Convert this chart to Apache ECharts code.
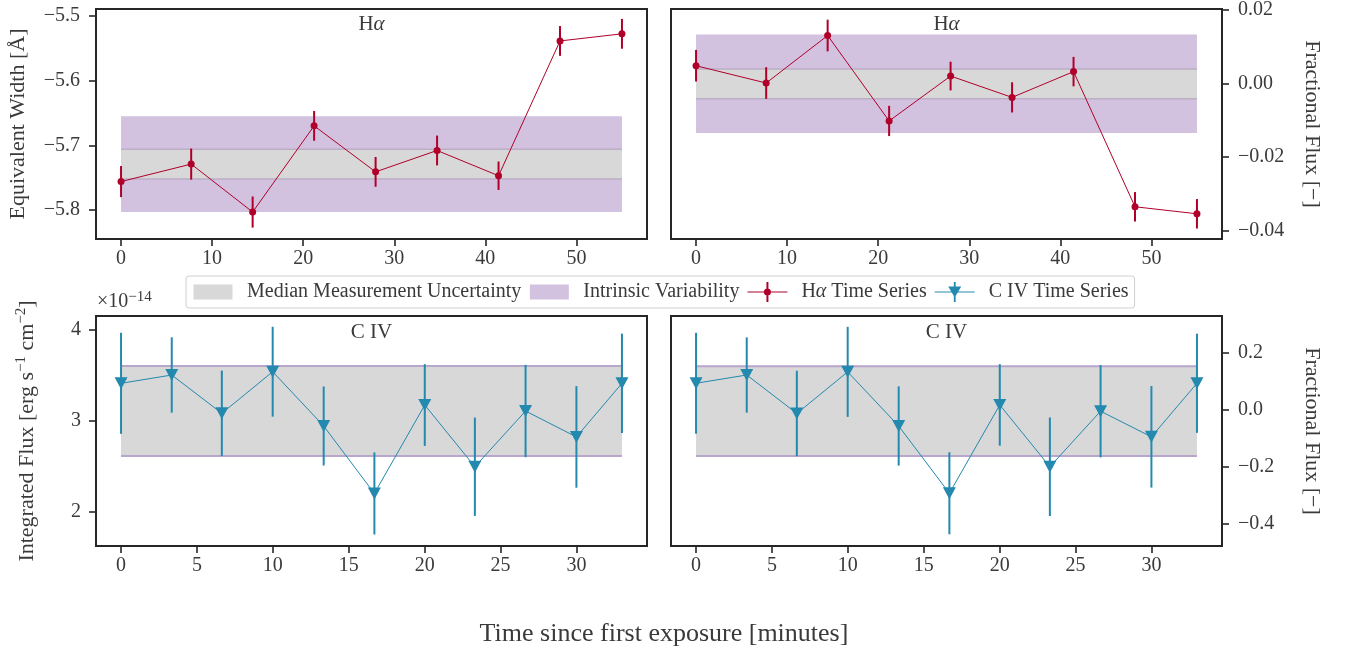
<!DOCTYPE html>
<html>
<head>
<meta charset="utf-8">
<script src="https://cdn.jsdelivr.net/npm/echarts@6/dist/echarts.min.js"></script>
<style>
html,body{margin:0;padding:0;background:#fff;}
#chart{width:1348px;height:656px;}
</style>
</head>
<body>
<div id="chart"></div>
<script>
// ---------------- data ----------------
const haTime = [0, 7.7, 14.45, 21.2, 27.95, 34.7, 41.45, 48.2, 55.0];
const haEW = [-5.756, -5.729, -5.803, -5.670, -5.741, -5.708, -5.747, -5.539, -5.528];
const haEWErr = [0.024, 0.024, 0.024, 0.023, 0.023, 0.023, 0.022, 0.023, 0.023];
const haFrac = [0.0048, 0.0001, 0.0130, -0.0102, 0.0020, -0.0038, 0.0032, -0.0335, -0.0354];
const haFracErr = [0.0043, 0.0043, 0.0043, 0.0041, 0.0039, 0.0041, 0.0040, 0.0040, 0.0040];
const haEWMeasBand = [-5.752, -5.706];
const haEWIntrBand = [-5.803, -5.655];
const haFracMeasBand = [-0.0042, 0.0039];
const haFracIntrBand = [-0.0135, 0.0133];

const civTime = [0, 3.34, 6.64, 9.99, 13.35, 16.69, 20.01, 23.31, 26.65, 30.0, 33.0];
const civFlux = [3.408, 3.499, 3.079, 3.535, 2.94, 2.20, 3.17, 2.493, 3.104, 2.82, 3.408];
const civFluxErr = [0.554, 0.413, 0.468, 0.493, 0.433, 0.45, 0.448, 0.539, 0.506, 0.557, 0.545];
const civFrac = [0.094, 0.123, -0.012, 0.134, -0.056, -0.292, 0.018, -0.199, -0.004, -0.094, 0.094];
const civFracErr = [0.177, 0.132, 0.150, 0.158, 0.139, 0.144, 0.143, 0.173, 0.162, 0.178, 0.174];
const civFluxMeasBand = [2.611, 3.598];
const civFracMeasBand = [-0.161, 0.154];

const xTicksHa = [0, 10, 20, 30, 40, 50];
const xTicksCiv = [0, 5, 10, 15, 20, 25, 30];
const yTicksEW = [-5.8, -5.7, -5.6, -5.5];
const yTicksHaFrac = [-0.04, -0.02, 0, 0.02];
const yTicksFlux = [2, 3, 4];
const yTicksCivFrac = [-0.4, -0.2, 0, 0.2];

const xRangeHa = [-2.75, 57.75];
const xRangeCiv = [-1.65, 34.65];
const yRangeEW = [-5.8446, -5.4897];
const yRangeHaFrac = [-0.04225, 0.0202];
const yRangeFlux = [1.624, 4.146];
const yRangeCivFrac = [-0.477, 0.330];

const NAME_MEAS = 'Median Measurement Uncertainty';
const NAME_INTR = 'Intrinsic Variability';
const NAME_HA = 'H\u03b1 Time Series';
const NAME_CIV = 'C IV Time Series';

// ---------------- styles ----------------
const FONT = 'Liberation Serif';
const TXT = '#3a3a3a';
const FRAME = '#262626';
const RED = '#b0002a';
const BLUE = '#2389ae';
const GRAY = '#d8d8d8';
const PURPLE = '#d2c2df';
const EDGE_TOP = '#bbaec6';
const EDGE_BOT = '#b9a6cc';

const minus = s => s.replace('-', '\u2212');

function grid(left, top) {
  return {left: left, top: top, width: 551, height: 230, show: true,
    borderColor: FRAME, borderWidth: 2, backgroundColor: 'transparent',
    containLabel: false, outerBoundsMode: 'none'};
}
function xAxisDef(g, range, ticks) {
  return {type: 'value', gridIndex: g, min: range[0], max: range[1],
    axisLine: {show: true, onZero: false, lineStyle: {color: FRAME, width: 2}},
    splitLine: {show: false},
    axisTick: {show: true, inside: false, length: 7, lineStyle: {color: FRAME, width: 1.6}, customValues: ticks},
    axisLabel: {show: true, margin: 10, customValues: ticks, fontFamily: FONT, fontSize: 20, color: TXT,
      formatter: v => minus(String(v))}};
}
function yAxisDef(g, pos, range, ticks, digits, name, gap, rot, margin, rich) {
  return {type: 'value', gridIndex: g, position: pos, min: range[0], max: range[1],
    axisLine: {show: true, onZero: false, lineStyle: {color: FRAME, width: 2}},
    splitLine: {show: false},
    axisTick: {show: true, inside: false, length: 7, lineStyle: {color: FRAME, width: 1.6}, customValues: ticks},
    axisLabel: {show: true, margin: margin, customValues: ticks, fontFamily: FONT, fontSize: 20, color: TXT,
      formatter: v => minus(Number(v).toFixed(digits))},
    name: name, nameLocation: 'middle', nameGap: gap, nameRotate: rot,
    nameTextStyle: {fontFamily: FONT, fontSize: 22, color: TXT, rich: rich || {}}};
}

function bandSeries(name, g, x0, x1, band, fill, edge, edgeW, z) {
  return {type: 'custom', name: name, xAxisIndex: g, yAxisIndex: g, z: z, silent: true,
    encode: {x: [0, 1], y: [2, 3]},
    data: [[x0, x1, band[0], band[1]]],
    renderItem: function (params, api) {
      const p0 = api.coord([api.value(0), api.value(3)]);
      const p1 = api.coord([api.value(1), api.value(2)]);
      const children = [{type: 'rect', shape: {x: p0[0], y: p0[1], width: p1[0] - p0[0], height: p1[1] - p0[1]},
        style: {fill: fill}}];
      if (edge) {
        children.push({type: 'line', shape: {x1: p0[0], y1: p0[1], x2: p1[0], y2: p0[1]}, style: {stroke: edge, lineWidth: edgeW}});
        children.push({type: 'line', shape: {x1: p0[0], y1: p1[1], x2: p1[0], y2: p1[1]}, style: {stroke: edge, lineWidth: edgeW}});
      }
      return {type: 'group', children: children};
    }};
}
function errSeries(name, g, xs, ys, es, color, z) {
  return {type: 'custom', name: name, xAxisIndex: g, yAxisIndex: g, z: z, silent: true,
    encode: {x: 0, y: 1},
    itemStyle: {color: color},
    data: xs.map((x, i) => [x, ys[i], es[i]]),
    renderItem: function (params, api) {
      const a = api.coord([api.value(0), api.value(1) + api.value(2)]);
      const b = api.coord([api.value(0), api.value(1) - api.value(2)]);
      return {type: 'line', shape: {x1: a[0], y1: a[1], x2: b[0], y2: b[1]}, style: {stroke: color, lineWidth: 2}};
    }};
}
function lineSeries(name, g, xs, ys, color, symbol, size, rot, z) {
  return {type: 'line', name: name, xAxisIndex: g, yAxisIndex: g, z: z, silent: true,
    data: xs.map((x, i) => [x, ys[i]]),
    symbol: symbol, symbolSize: size, symbolRotate: rot, showSymbol: true,
    lineStyle: {color: color, width: 1},
    itemStyle: {color: color, borderWidth: 0}};
}

const series = [
  bandSeries(NAME_INTR, 0, haTime[0], haTime[haTime.length - 1], haEWIntrBand, PURPLE, null, 0, 1),
  bandSeries(NAME_MEAS, 0, haTime[0], haTime[haTime.length - 1], haEWMeasBand, GRAY, EDGE_TOP, 1.5, 2),
  errSeries(NAME_HA, 0, haTime, haEW, haEWErr, RED, 3),
  lineSeries(NAME_HA, 0, haTime, haEW, RED, 'circle', 7, 0, 4),
  bandSeries(NAME_INTR, 1, haTime[0], haTime[haTime.length - 1], haFracIntrBand, PURPLE, null, 0, 1),
  bandSeries(NAME_MEAS, 1, haTime[0], haTime[haTime.length - 1], haFracMeasBand, GRAY, EDGE_TOP, 1.5, 2),
  errSeries(NAME_HA, 1, haTime, haFrac, haFracErr, RED, 3),
  lineSeries(NAME_HA, 1, haTime, haFrac, RED, 'circle', 7, 0, 4),
  bandSeries(NAME_MEAS, 2, civTime[0], civTime[civTime.length - 1], civFluxMeasBand, GRAY, EDGE_BOT, 2, 2),
  errSeries(NAME_CIV, 2, civTime, civFlux, civFluxErr, BLUE, 3),
  lineSeries(NAME_CIV, 2, civTime, civFlux, BLUE, 'triangle', [13, 12], 180, 4),
  bandSeries(NAME_MEAS, 3, civTime[0], civTime[civTime.length - 1], civFracMeasBand, GRAY, EDGE_BOT, 2, 2),
  errSeries(NAME_CIV, 3, civTime, civFrac, civFracErr, BLUE, 3),
  lineSeries(NAME_CIV, 3, civTime, civFrac, BLUE, 'triangle', [13, 12], 180, 4)
];

const ANCH = 'M0 0h0.01v0.01h-0.01Z M39.99 19.99h0.01v0.01h-0.01Z ';
const ICON_RECT = 'path://' + ANCH + 'M0.5 2.5H39.5V17.5H0.5Z';
const ICON_HA = 'path://' + ANCH + 'M0 9.5H40V10.5H0Z M19 0H21V20H19Z M23.5 10A3.5 3.5 0 1 1 16.5 10A3.5 3.5 0 1 1 23.5 10Z';
const ICON_CIV = 'path://' + ANCH + 'M0 9.5H40V10.5H0Z M19.1 0H20.9V20H19.1Z M13.5 4.5H26.5L20 15.5Z';

const supRich = {
  n: {fontFamily: FONT, fontSize: 22, color: TXT, verticalAlign: 'bottom', lineHeight: 24},
  sup: {fontFamily: FONT, fontSize: 15, color: TXT, verticalAlign: 'top', lineHeight: 17}
};

const option = {
  animation: false,
  backgroundColor: '#ffffff',
  grid: [grid(96, 9), grid(671, 9), grid(96, 316), grid(671, 316)],
  xAxis: [xAxisDef(0, xRangeHa, xTicksHa), xAxisDef(1, xRangeHa, xTicksHa),
          xAxisDef(2, xRangeCiv, xTicksCiv), xAxisDef(3, xRangeCiv, xTicksCiv)],
  yAxis: [
    yAxisDef(0, 'left', yRangeEW, yTicksEW, 1, 'Equivalent Width [\u00c5]', 67, 90, 16),
    yAxisDef(1, 'right', yRangeHaFrac, yTicksHaFrac, 2, 'Fractional Flux [\u2212]', 79, -90, 16),
    yAxisDef(2, 'left', yRangeFlux, yTicksFlux, 0,
      '{n|Integrated Flux [erg s}{sup|\u22121}{n| cm}{sup|\u22122}{n|]}', 58, 90, 15, supRich),
    yAxisDef(3, 'right', yRangeCivFrac, yTicksCivFrac, 1, 'Fractional Flux [\u2212]', 79, -90, 16)
  ],
  legend: {
    show: true, left: 186, top: 276, orient: 'horizontal',
    padding: [6, 6, 6, 7], itemGap: 8, itemWidth: 40, itemHeight: 20,
    borderColor: '#cfcfcf', borderWidth: 1, borderRadius: 3, backgroundColor: '#ffffff',
    selectedMode: false,
    textStyle: {fontFamily: FONT, fontSize: 20, color: TXT, padding: [0, 0, 0, 9], lineHeight: 20,
      rich: {it: {fontFamily: FONT, fontSize: 20, fontStyle: 'italic', color: TXT, lineHeight: 20}}},
    formatter: function (name) { return name === NAME_HA ? 'H{it|\u03b1} Time Series' : name; },
    data: [
      {name: NAME_MEAS, icon: ICON_RECT, itemStyle: {color: GRAY, borderWidth: 0}},
      {name: NAME_INTR, icon: ICON_RECT, itemStyle: {color: PURPLE, borderWidth: 0}},
      {name: NAME_HA, icon: ICON_HA, itemStyle: {color: RED, borderWidth: 0}},
      {name: NAME_CIV, icon: ICON_CIV, itemStyle: {color: BLUE, borderWidth: 0}}
    ]
  },
  graphic: [
    {type: 'text', x: 371.5, y: 24, silent: true,
      style: {text: 'H{it|\u03b1}', align: 'center', verticalAlign: 'middle',
        font: '21px "Liberation Serif"', fill: TXT,
        rich: {it: {fontFamily: FONT, fontSize: 21, fontStyle: 'italic', fill: TXT, color: TXT}}}},
    {type: 'text', x: 946.5, y: 24, silent: true,
      style: {text: 'H{it|\u03b1}', align: 'center', verticalAlign: 'middle',
        font: '21px "Liberation Serif"', fill: TXT,
        rich: {it: {fontFamily: FONT, fontSize: 21, fontStyle: 'italic', fill: TXT, color: TXT}}}},
    {type: 'text', x: 371.5, y: 332, silent: true,
      style: {text: 'C IV', align: 'center', verticalAlign: 'middle', font: '21px "Liberation Serif"', fill: TXT}},
    {type: 'text', x: 946.5, y: 332, silent: true,
      style: {text: 'C IV', align: 'center', verticalAlign: 'middle', font: '21px "Liberation Serif"', fill: TXT}},
    {type: 'text', x: 97, y: 301, silent: true,
      style: {text: '{n|\u00d710}{s|\u221214}', align: 'left', verticalAlign: 'middle', fill: TXT,
        font: '20px "Liberation Serif"',
        rich: {n: {fontFamily: FONT, fontSize: 20, fill: TXT, color: TXT, verticalAlign: 'bottom', lineHeight: 22},
               s: {fontFamily: FONT, fontSize: 15, fill: TXT, color: TXT, verticalAlign: 'top', lineHeight: 15}}}},
    {type: 'text', x: 664, y: 634, silent: true,
      style: {text: 'Time since first exposure [minutes]', align: 'center', verticalAlign: 'middle',
        font: '26px "Liberation Serif"', fill: TXT}}
  ],
  series: series
};

const chart = echarts.init(document.getElementById('chart'), null, {renderer: 'canvas'});
chart.setOption(option);
</script>
</body>
</html>
